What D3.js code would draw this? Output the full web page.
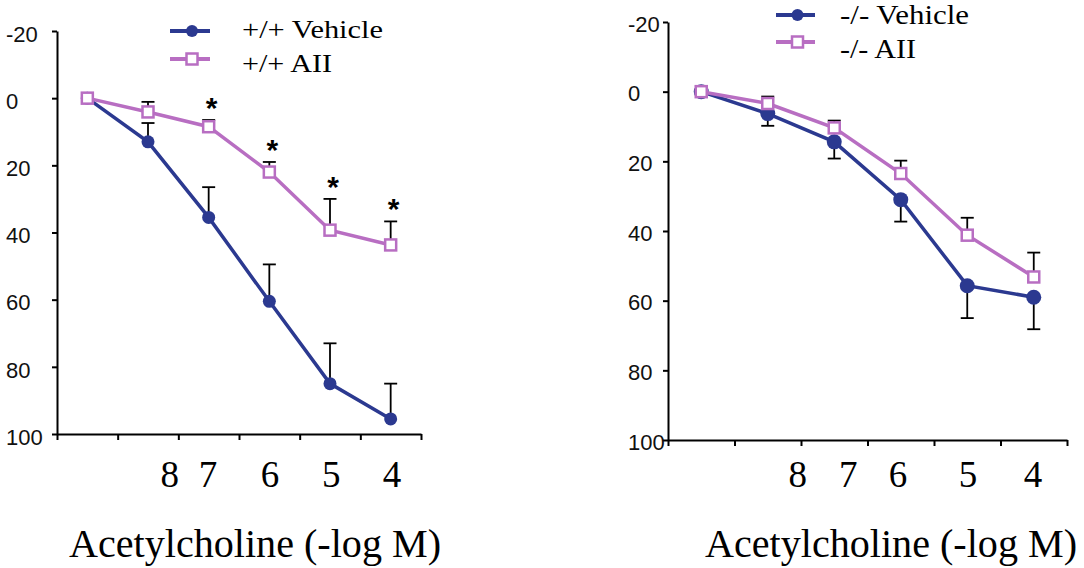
<!DOCTYPE html>
<html><head><meta charset="utf-8">
<script src="https://cdn.jsdelivr.net/npm/d3@7"></script>
<style>
html,body{margin:0;padding:0;background:#fff;}
svg{display:block;}
</style></head>
<body>
<svg id="c" width="1084" height="568"></svg>
<script>
// ---------- data ----------
const doses = ["base","d1","d2","d3","d4","d5"];
const yTicks = [-20, 0, 20, 40, 60, 80, 100];
const xTickLabels = ["8", "7", "6", "5", "4"];
// label positions in dose-index units (as printed in the figure)
const xLabelIdxLeft  = [1.86, 2.49, 3.51, 4.52, 5.52];
const xLabelIdxRight = [1.95, 2.71, 3.46, 4.51, 5.49];

const wtVehicle    = [0, 13, 35.5, 60.5, 85, 95.5];
const wtVehicleSem = [0, 5.6, 9, 11, 12, 10.5];
const wtAII        = [0, 4.1, 8.5, 22, 39.3, 43.7];
const wtAIISem     = [0, 3, 2, 3, 9.3, 7];
const wtSignif     = [false, false, true, true, true, true];

const koVehicle    = [0, 6.3, 14.4, 31, 55.7, 59];
const koVehicleSem = [0, 3.5, 4.8, 6.3, 9.3, 9.2];
const koAII        = [0, 3.4, 10.4, 23.5, 41.2, 53.2];
const koAIISem     = [0, 2, 2.1, 3.7, 5, 7];

const legendLeft  = ["+/+ Vehicle", "+/+ AII"];
const legendRight = ["-/- Vehicle", "-/- AII"];
const xTitle = "Acetylcholine (-log M)";

// ---------- font detection ----------
function detect(cands, generic) {
  const c = document.createElement("canvas").getContext("2d");
  const s = "Acetylcholine Wmi 8765";
  function w(f) { c.font = "40px " + f; return c.measureText(s).width; }
  const bm = w("monospace"), bs = w("sans-serif");
  for (const f of cands) {
    const q = "'" + f + "'";
    if (w(q + ",monospace") !== bm || w(q + ",sans-serif") !== bs) return q + "," + generic;
  }
  return generic;
}
const SERIF = detect(["Liberation Serif", "Times New Roman", "Tinos", "Nimbus Roman", "FreeSerif", "DejaVu Serif", "Noto Serif"], "serif");
const SANS = detect(["Liberation Sans", "Arial", "DejaVu Sans"], "sans-serif");

// ---------- styles ----------
const BLUE = "#2b3990", PINK = "#b86ec2";
const svg = d3.select("#c");

function panel(o) {
  const g = svg.append("g");
  const x = d3.scaleLinear().domain([0, doses.length]).range([o.x0, o.x1]);
  const y = d3.scaleLinear().domain([-20, 100]).range([o.y0, o.y1]);
  const px = i => x(i + 0.5);

  // axes
  const ax = g.append("g").attr("transform", `translate(0,${o.y1})`)
    .call(d3.axisBottom(x).tickValues(d3.range(doses.length + 1)).tickFormat("").tickSize(6).tickSizeOuter(0));
  const ay = g.append("g").attr("transform", `translate(${o.x0},0)`)
    .call(d3.axisLeft(y).tickValues(yTicks).tickFormat("").tickSize(5).tickSizeOuter(0));
  [ax, ay].forEach(a => {
    a.select(".domain").attr("stroke", "#000").attr("stroke-width", 2);
    a.selectAll(".tick line").attr("stroke", "#000").attr("stroke-width", 2);
  });
  // y labels
  g.selectAll(".ylab").data(yTicks).enter().append("text")
    .style("font-family", SANS).style("font-size", "22px")
    .attr("x", o.ylabX).attr("y", d => y(d) + o.ylabDy)
    .attr("dominant-baseline", "middle").attr("fill", "#111")
    .text(d => d);
  // x labels
  g.selectAll(".xlab").data(xTickLabels).enter().append("text")
    .style("font-family", SERIF).style("font-size", "37px")
    .attr("x", (d, i) => x(o.labIdx[i])).attr("y", 487)
    .attr("text-anchor", "middle")
    .text(d => d);
  g.append("text").style("font-family", SERIF).style("font-size", "41px")
    .attr("x", o.titleX).attr("y", 557)
    .attr("textLength", 372).attr("lengthAdjust", "spacingAndGlyphs")
    .text(xTitle);

  const line = d3.line().x((d, i) => px(i)).y(d => y(d));

  function series(vals, sem, dir, color, marker, msize) {
    const eb = g.append("g").attr("stroke", "#000").attr("stroke-width", 1.8);
    vals.forEach((v, i) => {
      if (!sem[i]) return;
      const e = y(v + dir * sem[i]);
      eb.append("line").attr("x1", px(i)).attr("x2", px(i)).attr("y1", y(v)).attr("y2", e);
      eb.append("line").attr("x1", px(i) - 6.5).attr("x2", px(i) + 6.5).attr("y1", e).attr("y2", e);
    });
    g.append("path").datum(vals).attr("d", line).attr("fill", "none")
      .attr("stroke", color).attr("stroke-width", 3.5);
    if (marker === "circle") {
      g.selectAll(null).data(vals).enter().append("circle")
        .attr("cx", (d, i) => px(i)).attr("cy", d => y(d)).attr("r", msize).attr("fill", color);
    } else {
      g.selectAll(null).data(vals).enter().append("rect")
        .attr("x", (d, i) => px(i) - msize).attr("y", d => y(d) - msize)
        .attr("width", msize * 2).attr("height", msize * 2)
        .attr("fill", "#fff").attr("stroke", color).attr("stroke-width", 2.5);
    }
  }
  series(o.veh, o.vehSem, o.vehDir, BLUE, "circle", o.cr);
  series(o.aii, o.aiiSem, -1, PINK, "square", 5.5);

  if (o.signif) {
    o.signif.forEach((s, i) => {
      if (!s) return;
      g.append("text").style("font-family", SANS).style("font-size", "30px").style("font-weight", "bold")
        .attr("x", px(i) + 3).attr("y", y(o.aii[i] - o.aiiSem[i]) - 2)
        .attr("text-anchor", "middle").text("*");
    });
  }

  // legend
  const lg = g.append("g");
  o.legend.forEach((t, i) => {
    const ly = o.legY[i];
    const c = i === 0 ? BLUE : PINK;
    lg.append("line").attr("x1", o.legX0).attr("x2", o.legX1).attr("y1", ly).attr("y2", ly)
      .attr("stroke", c).attr("stroke-width", 4);
    const mx = (o.legX0 + o.legX1) / 2 + 2;
    if (i === 0) lg.append("circle").attr("cx", mx).attr("cy", ly).attr("r", o.legR).attr("fill", c);
    else lg.append("rect").attr("x", mx - 5.5).attr("y", ly - 5.5).attr("width", 11).attr("height", 11)
      .attr("fill", "#fff").attr("stroke", c).attr("stroke-width", 2.5);
    lg.append("text").style("font-family", SERIF).style("font-size", o.legFs + "px")
      .attr("x", o.legTX).attr("y", o.legBase[i])
      .attr("textLength", o.legW[i]).attr("lengthAdjust", "spacingAndGlyphs")
      .text(t);
  });
}

panel({x0: 57, x1: 421, y0: 31, y1: 434, ylabX: 6, ylabDy: 5, labIdx: xLabelIdxLeft, titleX: 69,
  veh: wtVehicle, vehSem: wtVehicleSem, vehDir: -1, aii: wtAII, aiiSem: wtAIISem, cr: 6.5, signif: wtSignif,
  legend: legendLeft, legX0: 170, legX1: 210, legY: [31, 59], legR: 6, legTX: 242, legBase: [38, 72],
  legFs: 25, legW: [141, 90]});

panel({x0: 668, x1: 1067, y0: 22, y1: 440, ylabX: 628, ylabDy: 4, labIdx: xLabelIdxRight, titleX: 705,
  veh: koVehicle, vehSem: koVehicleSem, vehDir: 1, aii: koAII, aiiSem: koAIISem, cr: 7.5, signif: null,
  legend: legendRight, legX0: 776, legX1: 815, legY: [15, 42], legR: 6, legTX: 840, legBase: [24, 58],
  legFs: 28, legW: [129, 76]});
</script>
</body></html>
